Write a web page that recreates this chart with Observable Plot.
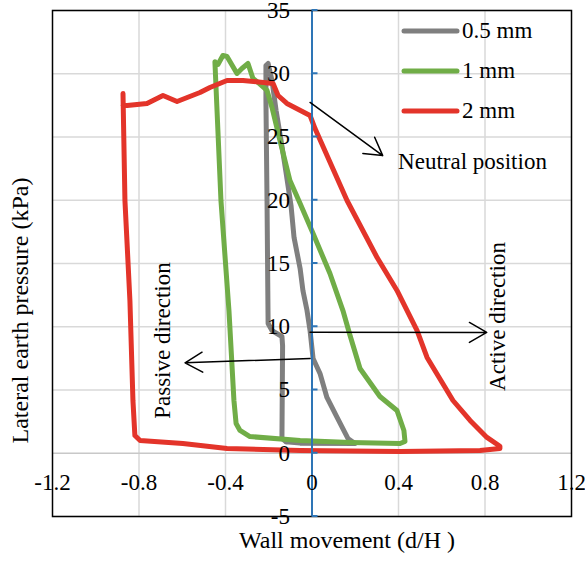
<!DOCTYPE html>
<html>
<head>
<meta charset="utf-8">
<script src="https://cdn.jsdelivr.net/npm/d3@7"></script>
<script src="https://cdn.jsdelivr.net/npm/@observablehq/plot@0.6"></script>
<style>
  html, body { margin: 0; padding: 0; background: #fff; }
  #chart { width: 585px; height: 562px; }
</style>
</head>
<body>
<div id="chart"></div>
<script>
// Wall movement d/H vs lateral earth pressure (kPa), one loop per amplitude
const mm05 = [
  [-0.120, 0.90], [-0.139, 1.17], [-0.136, 8.50], [-0.139, 9.23], [-0.185, 9.70],
  [-0.203, 10.26], [-0.208, 19.98], [-0.213, 27.88], [-0.213, 30.65], [-0.203, 30.81],
  [-0.185, 29.47], [-0.166, 27.09], [-0.143, 24.72], [-0.120, 22.19], [-0.097, 19.58],
  [-0.083, 17.05], [-0.055, 14.61], [-0.042, 12.87], [-0.023, 11.28], [-0.009, 9.70],
  [0.005, 7.49], [0.037, 6.31], [0.069, 4.41], [0.116, 2.83], [0.166, 1.17],
  [0.199, 0.77], [-0.055, 0.80], [-0.120, 0.90]
];
const mm1 = [
  [-0.444, 30.73], [-0.435, 30.73], [-0.412, 31.44], [-0.393, 31.36], [-0.347, 30.02],
  [-0.324, 30.42], [-0.296, 30.81], [-0.273, 29.63], [-0.250, 29.31], [-0.208, 28.68],
  [-0.185, 27.33], [-0.148, 24.72], [-0.102, 21.56], [-0.055, 19.74], [0.005, 17.37],
  [0.083, 14.21], [0.143, 11.28], [0.176, 9.31], [0.222, 6.70], [0.314, 4.49],
  [0.393, 3.38], [0.425, 1.80], [0.430, 0.93], [0.407, 0.77], [0.176, 0.85],
  [-0.055, 1.01], [-0.287, 1.32], [-0.333, 1.80], [-0.351, 2.35], [-0.361, 4.17],
  [-0.384, 11.28], [-0.421, 19.98], [-0.449, 30.95]
];
const mm2 = [
  [-0.874, 28.44], [-0.865, 19.98], [-0.842, 12.07], [-0.828, 4.17], [-0.819, 1.40],
  [-0.795, 1.01], [-0.597, 0.77], [-0.393, 0.38], [-0.055, 0.22], [0.407, 0.14],
  [0.777, 0.22], [0.869, 0.38], [0.869, 0.55], [0.809, 1.25], [0.731, 2.59],
  [0.652, 4.17], [0.532, 7.57], [0.486, 9.70], [0.393, 12.87], [0.301, 15.47],
  [0.162, 19.98], [0.014, 25.67], [-0.009, 26.70], [-0.116, 27.65], [-0.157, 28.28],
  [-0.180, 29.23], [-0.319, 29.47], [-0.393, 29.47], [-0.472, 28.91], [-0.518, 28.52],
  [-0.624, 27.81], [-0.689, 28.28], [-0.763, 27.65], [-0.855, 27.49], [-0.874, 27.50]
];

const seriesNames = ["0.5 mm", "1 mm", "2 mm"];
const seriesColors = ["#7f7f7f", "#70ad47", "#e3342a"];

const xTicks = [-1.2, -0.8, -0.4, 0, 0.4, 0.8, 1.2];
const xTickLabels = ["-1.2", "-0.8", "-0.4", "0", "0.4", "0.8", "1.2"];
const yTicks = [-5, 0, 5, 10, 15, 20, 25, 30, 35];

// annotation arrows and their labels
const arrows = [
  {x1: -0.009, y1: 27.73, x2: 0.327, y2: 23.53},
  {x1: -0.009, y1: 9.57, x2: 0.808, y2: 9.55},
  {x1: -0.009, y1: 7.49, x2: -0.587, y2: 7.15}
];
const notes = [
  {x: 0.398, y: 23.06, text: "Neutral position", rotate: 0},
  {x: 0.860, y: 10.81, text: "Active direction", rotate: -90},
  {x: -0.689, y: 8.91, text: "Passive direction", rotate: -90}
];

const xTitle = "Wall movement (d/H )";
const yTitle = "Lateral earth pressure (kPa)";

const font = "'Liberation Serif', 'Times New Roman', serif";
const axisBlue = "#2e75b6";
const grid = "#d9d9d9";

const toRows = (pts) => pts.map(([x, y]) => ({x, y}));

const chart = Plot.plot({
  width: 585,
  height: 562,
  marginLeft: 52,
  marginRight: 14,
  marginTop: 10,
  marginBottom: 46,
  x: {domain: [-1.2, 1.2], axis: null},
  y: {domain: [-5, 35], axis: null},
  style: {fontFamily: font, fontSize: "23px", background: "#fff", color: "#000"},
  marks: [
    Plot.ruleX(xTicks.filter((d) => d !== 0 && Math.abs(d) !== 1.2), {stroke: grid, strokeWidth: 1.5}),
    Plot.ruleY(yTicks.filter((d) => d !== 0), {stroke: grid, strokeWidth: 1.5}),
    Plot.ruleY([0], {stroke: "#c8c8c8", strokeWidth: 1.5}),
    Plot.line(toRows(mm05), {x: "x", y: "y", stroke: seriesColors[0], strokeWidth: 5}),
    Plot.line(toRows(mm1), {x: "x", y: "y", stroke: seriesColors[1], strokeWidth: 5}),
    Plot.line(toRows(mm2), {x: "x", y: "y", stroke: seriesColors[2], strokeWidth: 5}),
    Plot.ruleX([0], {stroke: axisBlue, strokeWidth: 2}),
    Plot.frame({stroke: "#000", strokeWidth: 1.5}),
    Plot.text(yTicks, {x: 0, y: (d) => d, text: (d) => String(d), textAnchor: "end", dx: -22, fill: "#000"}),
    Plot.text(xTicks, {x: (d) => d, y: 0, text: (d, i) => xTickLabels[i], dy: 29, fill: "#000"}),
    Plot.arrow(arrows, {x1: "x1", y1: "y1", x2: "x2", y2: "y2", stroke: "#000", strokeWidth: 1.5, headLength: 20, headAngle: 60}),
    Plot.text(notes.filter((d) => d.rotate === 0), {x: "x", y: "y", text: "text", textAnchor: "start", fill: "#000"}),
    Plot.text(notes.filter((d) => d.rotate !== 0), {x: "x", y: "y", text: "text", rotate: -90, textAnchor: "middle", fill: "#000"}),
    Plot.text([xTitle], {frameAnchor: "bottom", dx: 35, dy: 31, fontSize: 24, textAnchor: "middle", fill: "#000"}),
    Plot.text([yTitle], {frameAnchor: "left", dx: -32, dy: 47, rotate: -90, fontSize: 24, textAnchor: "middle", fill: "#000"})
  ]
});

document.getElementById("chart").appendChild(chart);

// short blue ticks on the right of the vertical axis at x = 0
const sx = chart.scale("x"), sy = chart.scale("y");
const svg = d3.select(chart);
const x0 = sx.apply(0);
svg.append("g")
  .attr("stroke", axisBlue)
  .attr("stroke-width", 2)
  .selectAll("line")
  .data(yTicks)
  .join("line")
  .attr("x1", x0)
  .attr("x2", x0 + 6)
  .attr("y1", (d) => sy.apply(d))
  .attr("y2", (d) => sy.apply(d));

// legend in the upper right
const legend = svg.append("g")
  .attr("font-family", font)
  .attr("font-size", 23)
  .attr("text-anchor", "start");
seriesNames.forEach((name, i) => {
  const yy = 31 + i * 40;
  legend.append("line")
    .attr("x1", 404).attr("x2", 457)
    .attr("y1", yy).attr("y2", yy)
    .attr("stroke", seriesColors[i])
    .attr("stroke-width", 5)
    .attr("stroke-linecap", "round");
  legend.append("text")
    .attr("x", 462).attr("y", yy)
    .attr("dy", "0.32em")
    .attr("text-anchor", "start")
    .attr("fill", "#000")
    .text(name);
});
</script>
</body>
</html>
